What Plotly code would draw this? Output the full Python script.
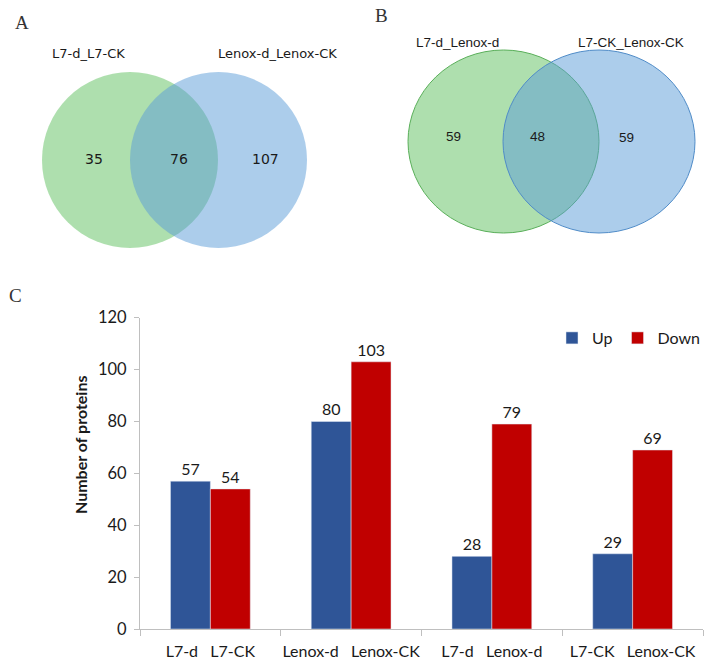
import plotly.graph_objects as go

# ---------------- data ----------------
venn_a_sets = ["L7-d_L7-CK", "Lenox-d_Lenox-CK"]
venn_a_counts = [35, 76, 107]          # left only, shared, right only
venn_b_sets = ["L7-d_Lenox-d", "L7-CK_Lenox-CK"]
venn_b_counts = [59, 48, 59]

groups = [0, 1, 2, 3]
up_values = [57, 80, 28, 29]
down_values = [54, 103, 79, 69]
up_labels = ["L7-d", "Lenox-d", "L7-d", "L7-CK"]
down_labels = ["L7-CK", "Lenox-CK", "Lenox-d", "Lenox-CK"]
y_ticks = [0, 20, 40, 60, 80, 100, 120]

# ---------------- styling ----------------
W, H = 708, 662
BLUE = "#2F5597"
RED = "#C00000"
AXIS = "#BFBFBF"
FONT = "Lato"
TXT = "#1a1a1a"
NB = "\u00a0"

fig = go.Figure()

fig.add_trace(go.Bar(x=groups, y=up_values, name="Up", marker_color=BLUE,
                     text=up_values, textposition="outside", cliponaxis=False,
                     textfont=dict(family=FONT, size=16, color=TXT)))
fig.add_trace(go.Bar(x=groups, y=down_values, name="Down", marker_color=RED,
                     text=down_values, textposition="outside", cliponaxis=False,
                     textfont=dict(family=FONT, size=16, color=TXT)))

# invisible trace to activate tick-axis overlay
fig.add_trace(go.Scatter(x=[-0.5, 3.5], y=[0, 0], xaxis="x3", yaxis="y",
                         mode="markers", marker=dict(opacity=0), showlegend=False,
                         hoverinfo="skip"))
# invisible trace for venn axes
fig.add_trace(go.Scatter(x=[0, W], y=[0, 270], xaxis="x2", yaxis="y2",
                         mode="markers", marker=dict(opacity=0), showlegend=False,
                         hoverinfo="skip"))

ticktext = [ul + NB * 3 + dl for ul, dl in zip(up_labels, down_labels)]

# ---------------- venn diagrams ----------------
# geometry in pixel space of the top panel
venns = [
    dict(sets=venn_a_sets, counts=venn_a_counts,
         c1=(130, 160, 88, 88), c2=(218.5, 160, 88.5, 88),
         lab_pos=[(88, 53), (277, 53)], num_pos=[(94, 159), (179, 159), (265, 159)],
         font="DejaVu Sans", lab_size=13, num_size=14, border=False,
         letter="A", letter_pos=(22, 22)),
    dict(sets=venn_b_sets, counts=venn_b_counts,
         c1=(503.5, 141.5, 95.5, 91.5), c2=(599, 141.5, 96, 91.5),
         lab_pos=[(457, 42), (631, 42)], num_pos=[(453, 136), (537, 136), (626, 137)],
         font="Liberation Sans", lab_size=13.5, num_size=13.5, border=True,
         letter="B", letter_pos=(381, 15)),
]

shapes = []
annotations = []
for v in venns:
    for (cx, cy, rx, ry), fill, line in [
        (v["c1"], "rgba(76,185,76,0.45)", "rgba(90,175,90,1)"),
        (v["c2"], "rgba(90,155,215,0.5)", "rgba(80,140,200,1)"),
    ]:
        shapes.append(dict(type="circle", xref="x2", yref="y2",
                           x0=cx - rx, x1=cx + rx, y0=cy - ry, y1=cy + ry,
                           fillcolor=fill, layer="below",
                           line=dict(color=line if v["border"] else "rgba(0,0,0,0)",
                                     width=1)))
    for name, (x, y) in zip(v["sets"], v["lab_pos"]):
        annotations.append(dict(x=x, y=y, xref="x2", yref="y2", text=name,
                                showarrow=False,
                                font=dict(family=v["font"], size=v["lab_size"], color=TXT)))
    for n, (x, y) in zip(v["counts"], v["num_pos"]):
        annotations.append(dict(x=x, y=y, xref="x2", yref="y2", text=str(n),
                                showarrow=False,
                                font=dict(family=v["font"], size=v["num_size"], color=TXT)))
    lx, ly = v["letter_pos"]
    annotations.append(dict(x=lx, y=ly, xref="x2", yref="y2", text=v["letter"],
                            showarrow=False,
                            font=dict(family="Liberation Serif", size=19, color="#333")))

annotations.append(dict(x=15, y=295, xref="x2", yref="y2", text="C", showarrow=False,
                        font=dict(family="Liberation Serif", size=19, color="#333")))
annotations.append(dict(x=80 / W, y=(H - 445) / H, xref="paper", yref="paper",
                        xanchor="center", yanchor="middle",
                        text="<b>Number of proteins</b>", textangle=-90, showarrow=False,
                        font=dict(family=FONT, size=16, color=TXT)))

# ---------------- layout ----------------
y0_px, y120_px = 629, 317.7
fig.update_layout(
    width=W, height=H, margin=dict(l=0, r=0, t=0, b=0, autoexpand=False),
    paper_bgcolor="white", plot_bgcolor="rgba(0,0,0,0)",
    barmode="group", bargap=0.433, bargroupgap=0,
    shapes=shapes, annotations=annotations,
    showlegend=True,
    legend=dict(orientation="h", x=706 / W, y=(H - 338) / H, xanchor="right",
                yanchor="middle", font=dict(family=FONT, size=16, color=TXT),
                itemwidth=30, traceorder="normal", bgcolor="rgba(0,0,0,0)"),
    xaxis=dict(domain=[140 / W, 703 / W], range=[-0.5, 3.5], automargin=False,
               tickvals=groups, ticktext=ticktext, ticks="", tickangle=0,
               showline=True, linecolor=AXIS, linewidth=1, showgrid=False,
               zeroline=False, ticklabelstandoff=8,
               tickfont=dict(family=FONT, size=16, color=TXT)),
    xaxis3=dict(overlaying="x", anchor="y", range=[-0.5, 3.5], automargin=False,
                domain=[140 / W, 703 / W],
                tickvals=[-0.5, 0.5, 1.5, 2.5, 3.5], ticks="outside", ticklen=6,
                tickcolor=AXIS, showticklabels=False, showgrid=False,
                zeroline=False, showline=False),
    yaxis=dict(domain=[(H - y0_px) / H, (H - y120_px) / H], range=[0, 120],
               automargin=False,
               tickvals=y_ticks, ticks="outside", ticklen=5, tickcolor=AXIS,
               showline=True, linecolor=AXIS, linewidth=1, showgrid=False,
               zeroline=False, ticklabelstandoff=4,
               tickfont=dict(family=FONT, size=16.5, color=TXT)),
    xaxis2=dict(domain=[0, 1], range=[0, W], visible=False, anchor="y2",
                automargin=False),
    yaxis2=dict(domain=[(H - 310) / H, 1], range=[310, 0], visible=False,
                anchor="x2", automargin=False),
)

fig.write_html("out.html", config={"displayModeBar": False},
               post_script="document.body.style.margin='0';"
                           "document.body.style.overflow='hidden';")
